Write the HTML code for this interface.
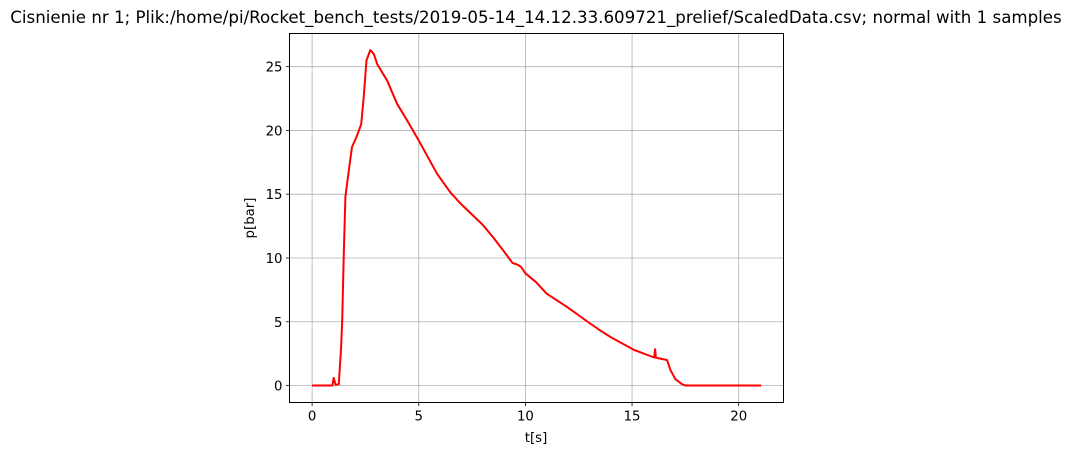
<!DOCTYPE html>
<html><head><meta charset="utf-8"><style>
body{margin:0;background:#fff;}
svg{display:block;font-family:"DejaVu Sans","Liberation Sans",sans-serif;}
</style></head><body>
<svg id="chart" width="1072" height="455">
<text x="536" y="23" text-anchor="middle" font-size="16.65" fill="#000">Cisnienie nr 1; Plik:/home/pi/Rocket_bench_tests/2019-05-14_14.12.33.609721_prelief/ScaledData.csv; normal with 1 samples</text>
<g id="grid"></g>
<g id="ticks"></g>
<polyline id="line" fill="none" stroke="#ff0000" stroke-width="2" stroke-linejoin="round"/>
<rect x="289.5" y="33.5" width="494" height="369" fill="none" stroke="#000" stroke-width="1"/>
<text x="536" y="442" text-anchor="middle" font-size="13.3">t[s]</text>
<text x="0" y="0" transform="translate(254,218) rotate(-90)" text-anchor="middle" font-size="13.3">p[bar]</text>
</svg>
<script>
const tVals=[0,0.95,1.01,1.1,1.25,1.36,1.41,1.48,1.56,1.72,1.87,2.11,2.30,2.42,2.55,2.73,2.89,3.05,3.52,3.98,4.45,5.0,5.86,6.48,7.0,7.5,8.0,8.5,9.0,9.4,9.6,9.8,10.0,10.5,11.0,12.0,13.0,13.52,14.0,15.08,16.04,16.08,16.12,16.2,16.64,16.8,17.03,17.35,17.5,21.05];
const pVals=[0,0,0.6,0.05,0.1,3.0,5.1,10.05,14.8,16.85,18.7,19.6,20.5,22.6,25.5,26.3,26.0,25.2,23.9,22.1,20.8,19.2,16.6,15.15,14.2,13.4,12.6,11.6,10.5,9.6,9.5,9.3,8.8,8.1,7.2,6.1,4.9,4.3,3.8,2.8,2.2,2.85,2.2,2.15,2.0,1.2,0.5,0.1,0,0];
const xTicks=[0,5,10,15,20];
const yTicks=[0,5,10,15,20,25];
const xMin=-1.06,xMax=22.1,yMin=-1.33,yMax=27.6;
const L=289.5,R=783.5,T=33.5,B=402.5;
const xs=v=>L+(v-xMin)/(xMax-xMin)*(R-L);
const ys=v=>B-(v-yMin)/(yMax-yMin)*(B-T);
const NS="http://www.w3.org/2000/svg";
const grid=document.getElementById('grid'),ticks=document.getElementById('ticks');
function mk(tag,attrs,parent){const e=document.createElementNS(NS,tag);for(const k in attrs)e.setAttribute(k,attrs[k]);parent.appendChild(e);return e;}
xTicks.forEach(v=>{const x=xs(v);
const g=mk('line',{x1:x,x2:x,y1:T,y2:B,stroke:'#b0b0b0','stroke-width':0.8},grid);


const tk=mk('line',{x1:x,x2:x,y1:B,y2:B+3.5,stroke:'#000','stroke-width':0.8},ticks);


const t=mk('text',{x:x,y:B+18,'text-anchor':'middle','font-size':13.3},ticks);t.textContent=v;

});
yTicks.forEach(v=>{const y=ys(v);
const g=mk('line',{x1:L,x2:R,y1:y,y2:y,stroke:'#b0b0b0','stroke-width':0.8},grid);


const tk=mk('line',{x1:L-3.5,x2:L,y1:y,y2:y,stroke:'#000','stroke-width':0.8},ticks);


const t=mk('text',{x:L-7,y:y+5,'text-anchor':'end','font-size':13.3},ticks);t.textContent=v;

});
document.getElementById('line').setAttribute('points',tVals.map((t,i)=>xs(t).toFixed(1)+','+ys(pVals[i]).toFixed(1)).join(' '));
</script>
</body></html>
